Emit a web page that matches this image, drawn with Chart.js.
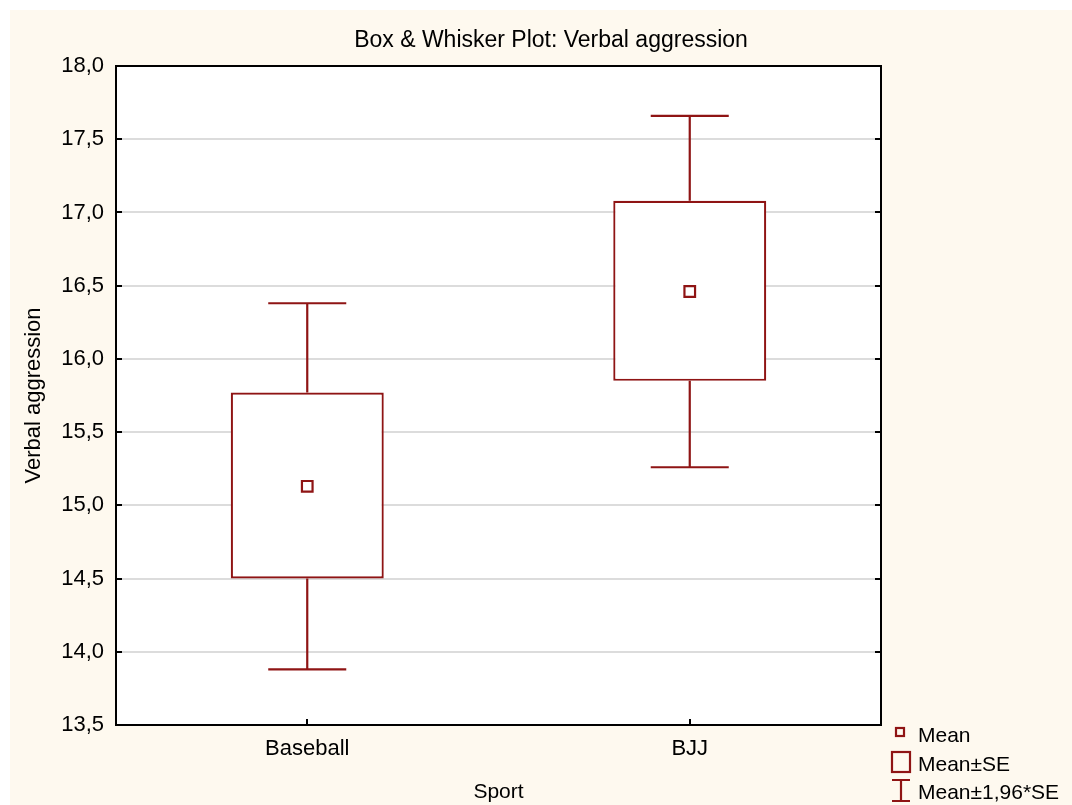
<!DOCTYPE html>
<html>
<head>
<meta charset="utf-8">
<script src="https://cdn.jsdelivr.net/npm/chart.js@4"></script>
<style>
  html, body { margin: 0; padding: 0; background: #fff; }
  canvas { display: block; }
</style>
</head>
<body>
<canvas id="myChart" width="1072" height="805"></canvas>
<script>
// data
const categories = ["Baseball", "BJJ"];
const means = [15.13, 16.46];
const seLow = [14.50, 15.85]; // Mean - SE
const seHigh = [15.77, 17.08]; // Mean + SE
const ciLow = [13.88, 15.26]; // Mean - 1,96*SE
const ciHigh = [16.38, 17.66]; // Mean + 1,96*SE
const legendLabels = ["Mean", "Mean±SE", "Mean±1,96*SE"];

const RED = "#8f1414";
const FONT = "'Liberation Sans', Arial, sans-serif";

const decimalComma = (v) => v.toFixed(1).replace(".", ",");

// cream page, white plot, whiskers, frame, inside ticks and legend
const boxPlotExtras = {
  id: "boxPlotExtras",
  beforeDraw(chart) {
    const { ctx, chartArea: a } = chart;
    ctx.save();
    ctx.fillStyle = "#ffffff";
    ctx.fillRect(0, 0, chart.width, chart.height);
    ctx.fillStyle = "#fef9ef";
    ctx.fillRect(10, 10, chart.width - 10, chart.height - 10);
    ctx.fillStyle = "#ffffff";
    ctx.fillRect(a.left, a.top, a.right - a.left, a.bottom - a.top);
    ctx.restore();
  },
  beforeDatasetsDraw(chart) {
    const { ctx, scales } = chart;
    const bars = chart.getDatasetMeta(0).data;
    ctx.save();
    ctx.strokeStyle = RED;
    ctx.lineWidth = 2.2;
    categories.forEach((c, i) => {
      const x = scales.x.getPixelForValue(i);
      const half = bars[i].width * 0.255;
      const yTop = scales.y.getPixelForValue(ciHigh[i]);
      const yBot = scales.y.getPixelForValue(ciLow[i]);
      ctx.beginPath();
      ctx.moveTo(x, scales.y.getPixelForValue(seHigh[i]));
      ctx.lineTo(x, yTop);
      ctx.moveTo(x - half, yTop);
      ctx.lineTo(x + half, yTop);
      ctx.moveTo(x, scales.y.getPixelForValue(seLow[i]));
      ctx.lineTo(x, yBot);
      ctx.moveTo(x - half, yBot);
      ctx.lineTo(x + half, yBot);
      ctx.stroke();
    });
    ctx.restore();
  },
  afterDraw(chart) {
    const { ctx, chartArea: a, scales } = chart;
    ctx.save();
    ctx.strokeStyle = "#000";
    ctx.lineWidth = 2;
    ctx.beginPath();
    scales.y.ticks.forEach((t) => {
      const y = Math.round(scales.y.getPixelForValue(t.value));
      ctx.moveTo(a.left, y);
      ctx.lineTo(a.left + 6, y);
      ctx.moveTo(a.right, y);
      ctx.lineTo(a.right - 6, y);
    });
    categories.forEach((c, i) => {
      const x = Math.round(scales.x.getPixelForValue(i));
      ctx.moveTo(x, a.bottom);
      ctx.lineTo(x, a.bottom - 6);
    });
    ctx.stroke();
    ctx.strokeRect(a.left, a.top, a.right - a.left, a.bottom - a.top);

    // legend
    ctx.strokeStyle = RED;
    ctx.lineWidth = 2.2;
    ctx.strokeRect(896, 728, 8, 8);
    ctx.strokeRect(892, 752, 18, 20);
    ctx.beginPath();
    ctx.moveTo(892, 780); ctx.lineTo(910, 780);
    ctx.moveTo(901, 780); ctx.lineTo(901, 801);
    ctx.moveTo(892, 801); ctx.lineTo(910, 801);
    ctx.stroke();
    ctx.fillStyle = "#000";
    ctx.font = "21px " + FONT;
    ctx.textBaseline = "alphabetic";
    ctx.fillText(legendLabels[0], 918, 742);
    ctx.fillText(legendLabels[1], 918, 771);
    ctx.fillText(legendLabels[2], 918, 799);
    ctx.restore();
  },
};

const ctx = document.getElementById("myChart");
const myChart = new Chart(ctx, {
  data: {
    labels: categories,
    datasets: [
      {
        type: "bar",
        data: categories.map((c, i) => [seLow[i], seHigh[i]]),
        backgroundColor: "#ffffff",
        borderColor: RED,
        borderWidth: 2.2,
        borderSkipped: false,
        barPercentage: 0.4,
        categoryPercentage: 1,
        order: 2,
      },
      {
        type: "line",
        data: means,
        showLine: false,
        pointStyle: "rect",
        pointRadius: 7.5,
        pointBorderWidth: 2.2,
        pointBorderColor: RED,
        pointBackgroundColor: "#ffffff",
        order: 1,
      },
    ],
  },
  options: {
    responsive: false,
    animation: false,
    events: [],
    layout: { padding: { left: 30, right: 0, top: 0, bottom: 0 } },
    plugins: {
      legend: { display: false },
      tooltip: { enabled: false },
      title: {
        display: true,
        text: "Box & Whisker Plot: Verbal aggression",
        color: "#000",
        font: { family: FONT, size: 23, weight: "normal" },
        padding: { top: 27.2, bottom: 11.2 },
      },
    },
    scales: {
      x: {
        grid: { display: false, drawTicks: false },
        border: { display: false },
        ticks: { color: "#000", padding: 11, font: { family: FONT, size: 22 } },
        title: {
          display: true,
          text: "Sport",
          color: "#000",
          font: { family: FONT, size: 21 },
          padding: { top: 0, bottom: 0 },
        },
        afterFit: (s) => { s.height = 80; },
      },
      y: {
        min: 13.5,
        max: 18,
        ticks: {
          stepSize: 0.5,
          color: "#000",
          padding: 12,
          font: { family: FONT, size: 22 },
          callback: (v) => decimalComma(v),
        },
        grid: { color: "#dcdcdc", lineWidth: 2, drawTicks: false },
        border: { display: false },
        title: {
          display: true,
          text: "Verbal aggression",
          color: "#000",
          font: { family: FONT, size: 22 },
          padding: { top: -9.5, bottom: 0 },
        },
        afterFit: (s) => { s.width = 86; },
      },
      y2: {
        position: "right",
        min: 13.5,
        max: 18,
        grid: { display: false, drawTicks: false },
        border: { display: false },
        ticks: { display: false },
        afterFit: (s) => { s.width = 191; },
      },
    },
  },
  plugins: [boxPlotExtras],
});
</script>
</body>
</html>
